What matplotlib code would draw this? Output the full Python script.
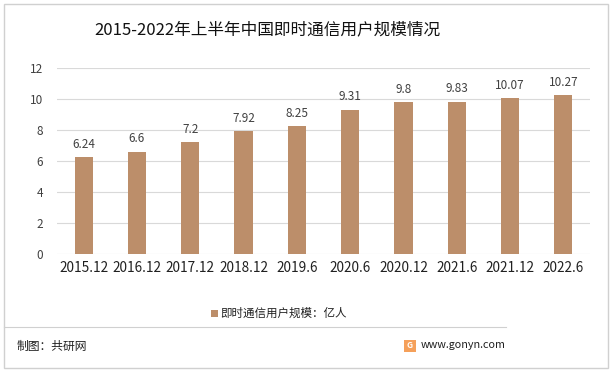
import matplotlib
matplotlib.use("Agg")
import matplotlib.pyplot as plt
from matplotlib.patches import Rectangle
from matplotlib.lines import Line2D

plt.rcParams['font.family'] = ['Noto Sans CJK SC', 'DejaVu Sans']

categories = ["2015.12", "2016.12", "2017.12", "2018.12", "2019.6",
              "2020.6", "2020.12", "2021.6", "2021.12", "2022.6"]
values = [6.24, 6.6, 7.2, 7.92, 8.25, 9.31, 9.8, 9.83, 10.07, 10.27]
labels = ["6.24", "6.6", "7.2", "7.92", "8.25", "9.31", "9.8", "9.83", "10.07", "10.27"]
series_name = "即时通信用户规模：亿人"
title = "2015-2022年上半年中国即时通信用户规模情况"
yticks = [0, 2, 4, 6, 8, 10, 12]

bar_color = "#BC8E6A"
text_color = "#404040"

fig = plt.figure(figsize=(6.13, 3.72), dpi=100)
ax = fig.add_axes([57/613, 1-254/372, (590-57)/613, (254-68)/372])

x = list(range(len(categories)))
ax.bar(x, values, width=0.34, color=bar_color, zorder=3, label=series_name)
for xi, v, lab in zip(x, values, labels):
    ax.text(xi, v + 0.4, lab, ha='center', va='bottom', fontsize=8.5, color=text_color)

ax.set_xlim(-0.5, len(categories) - 0.5)
ax.set_ylim(0, 12)
ax.set_yticks(yticks)
ax.set_yticklabels([str(t) for t in yticks], fontsize=8.5, color=text_color)
ax.set_xticks(x)
ax.set_xticklabels(categories, fontsize=9.8, color="#202020")
ax.tick_params(axis='both', length=0, pad=5)
ax.tick_params(axis='y', pad=10)
ax.grid(axis='y', color="#D9D9D9", linewidth=0.8, zorder=0)
for s in ax.spines.values():
    s.set_visible(False)

fig.text(267/613, 1-30/372, title, ha='center', va='center', fontsize=12, color="#111111")

# legend
fig.patches.append(Rectangle((211/613, 1-317/372), 7/613, 7/372, transform=fig.transFigure,
                             facecolor=bar_color, edgecolor='none'))
fig.text(220/613, 1-313.5/372, series_name, ha='left', va='center', fontsize=8.3, color="#202020")

# separator line
fig.lines.append(Line2D([4/613, 506/613], [1-327/372, 1-327/372], transform=fig.transFigure,
                        color="#D0D0D0", linewidth=0.8))

# footer
fig.text(17/613, 1-346/372, "制图：共研网", ha='left', va='center', fontsize=8.5, color="#202020")
fig.patches.append(Rectangle((404/613, 1-352/372), 12/613, 12/372, transform=fig.transFigure,
                             facecolor="#F5A05A", edgecolor='none'))
fig.text(410/613, 1-346/372, "G", ha='center', va='center', fontsize=6, color="white", fontweight='bold')
fig.text(421/613, 1-345/372, "www.gonyn.com", ha='left', va='center', fontsize=7.8, color="#202020")

# outer border
fig.patches.append(Rectangle((4/613, 4/372), 604/613, 364/372, transform=fig.transFigure,
                             facecolor='none', edgecolor="#D0D0D0", linewidth=1))

fig.savefig("out.png", dpi=100)
